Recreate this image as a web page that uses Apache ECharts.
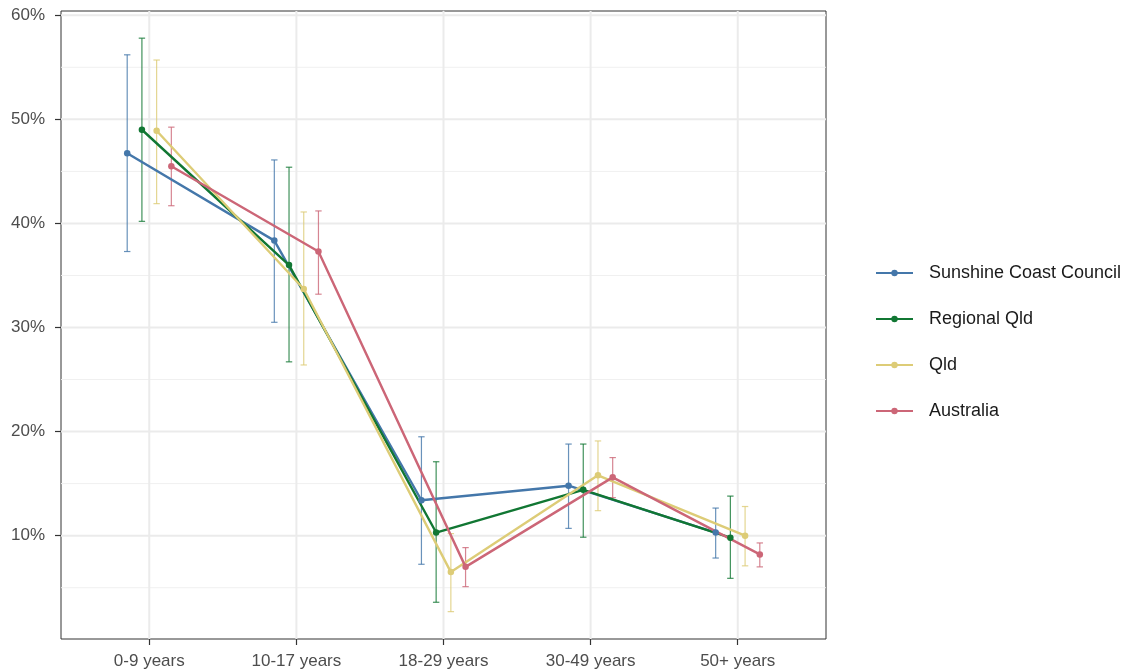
<!DOCTYPE html>
<html><head><meta charset="utf-8">
<script src="https://cdn.jsdelivr.net/npm/echarts@6/dist/echarts.min.js"></script>
<style>html,body{margin:0;padding:0;background:#fff}#c{width:1125px;height:671px}</style>
</head><body><div id="c"></div>
<script>
const categories = ['0-9 years', '10-17 years', '18-29 years', '30-49 years', '50+ years'];
const seriesNames = ['Sunshine Coast Council', 'Regional Qld', 'Qld', 'Australia'];
const seriesColors = ['#4477AA', '#117733', '#DDCC77', '#CC6677'];

const sunshineValues = [46.75, 38.35, 13.4, 14.8, 10.3];
const sunshineLower  = [37.3, 30.5, 7.25, 10.7, 7.85];
const sunshineUpper  = [56.2, 46.1, 19.5, 18.8, 12.65];

const regionalValues = [49.0, 36.0, 10.3, 14.4, 9.8];
const regionalLower  = [40.2, 26.7, 3.6, 9.85, 5.9];
const regionalUpper  = [57.8, 45.4, 17.1, 18.8, 13.8];

const qldValues = [48.9, 33.7, 6.5, 15.8, 10.0];
const qldLower  = [41.9, 26.4, 2.7, 12.4, 7.1];
const qldUpper  = [55.7, 41.1, 10.2, 19.1, 12.8];

const ausValues = [45.5, 37.3, 7.0, 15.6, 8.2];
const ausLower  = [41.7, 33.2, 5.1, 13.65, 7.0];
const ausUpper  = [49.25, 41.2, 8.85, 17.5, 9.3];

const yTickValues = [10, 20, 30, 40, 50, 60];
const yMinorValues = [5, 15, 25, 35, 45, 55];
const xTickValues = [1, 2, 3, 4, 5];
const dodgeOffsets = [-0.15, -0.05, 0.05, 0.15];

const allValues = [sunshineValues, regionalValues, qldValues, ausValues];
const allLower = [sunshineLower, regionalLower, qldLower, ausLower];
const allUpper = [sunshineUpper, regionalUpper, qldUpper, ausUpper];

const X_MIN = 0.4, X_MAX = 5.6, Y_MIN = 0.07, Y_MAX = 60.41;

const chart = echarts.init(document.getElementById('c'));
const series = [];

// grid lines (drawn through the axis scales)
series.push({
  type: 'custom', name: 'grid-h', silent: true, z: 1,
  data: yTickValues.map(v => [v, 1]).concat(yMinorValues.map(v => [v, 0])),
  encode: { y: 0 },
  renderItem(params, api) {
    const cs = params.coordSys;
    const y = api.coord([X_MIN, api.value(0)])[1];
    const major = api.value(1) === 1;
    return { type: 'line', shape: { x1: cs.x, y1: y, x2: cs.x + cs.width, y2: y },
      style: { stroke: major ? '#ebebeb' : '#f0f0f0', lineWidth: major ? 2 : 1 } };
  }
});
series.push({
  type: 'custom', name: 'grid-v', silent: true, z: 1,
  data: xTickValues.map(v => [v]),
  encode: { x: 0 },
  renderItem(params, api) {
    const cs = params.coordSys;
    const x = api.coord([api.value(0), Y_MIN])[0];
    return { type: 'line', shape: { x1: x, y1: cs.y, x2: x, y2: cs.y + cs.height },
      style: { stroke: '#ebebeb', lineWidth: 2 } };
  }
});

seriesNames.forEach((name, i) => {
  const color = seriesColors[i];
  series.push({
    type: 'custom', name: name + ' CI', silent: true, z: 3,
    data: categories.map((c, j) => [j + 1 + dodgeOffsets[i], allLower[i][j], allUpper[i][j]]),
    encode: { x: 0, y: [1, 2] },
    renderItem(params, api) {
      const x = api.value(0);
      const lo = api.coord([x, api.value(1)]);
      const hi = api.coord([x, api.value(2)]);
      const hw = 3.2;
      const st = { stroke: color, lineWidth: 1.2, opacity: 0.8 };
      return { type: 'group', children: [
        { type: 'line', shape: { x1: lo[0], y1: lo[1], x2: hi[0], y2: hi[1] }, style: st },
        { type: 'line', shape: { x1: lo[0] - hw, y1: lo[1], x2: lo[0] + hw, y2: lo[1] }, style: st },
        { type: 'line', shape: { x1: hi[0] - hw, y1: hi[1], x2: hi[0] + hw, y2: hi[1] }, style: st }
      ] };
    }
  });
  series.push({
    type: 'line', name: name, z: 4,
    data: categories.map((c, j) => [j + 1 + dodgeOffsets[i], allValues[i][j]]),
    symbol: 'circle', symbolSize: 6.5,
    itemStyle: { color: color },
    lineStyle: { color: color, width: 2.4 },
    emphasis: { disabled: true },
    animation: false
  });
});

chart.setOption({
  animation: false,
  textStyle: { fontFamily: 'Liberation Sans, Arial, sans-serif' },
  grid: { left: 61, right: 299, top: 11, bottom: 32, show: true, borderColor: '#333333', borderWidth: 1, backgroundColor: 'transparent' },
  xAxis: {
    type: 'value', min: X_MIN, max: X_MAX,
    axisLine: { show: false },
    splitLine: { show: false },
    axisTick: { show: true, customValues: xTickValues, length: 6, lineStyle: { color: '#333333', width: 1.2 } },
    axisLabel: { customValues: xTickValues, formatter: v => categories[Math.round(v) - 1] || '',
      color: '#4d4d4d', fontSize: 17, margin: 14 }
  },
  yAxis: {
    type: 'value', min: Y_MIN, max: Y_MAX,
    axisLine: { show: false },
    splitLine: { show: false },
    axisTick: { show: true, customValues: yTickValues, length: 6, lineStyle: { color: '#333333', width: 1.2 } },
    axisLabel: { customValues: yTickValues, formatter: v => Math.round(v) + '%',
      color: '#4d4d4d', fontSize: 17, margin: 16 }
  },
  legend: {
    data: seriesNames, orient: 'vertical', left: 870, top: 258,
    itemWidth: 37, itemHeight: 8, itemGap: 26,
    textStyle: { color: '#1a1a1a', fontSize: 18, lineHeight: 20, padding: [0, 0, 0, 11] },
    selectedMode: false
  },
  series: series
});
</script>
</body></html>
